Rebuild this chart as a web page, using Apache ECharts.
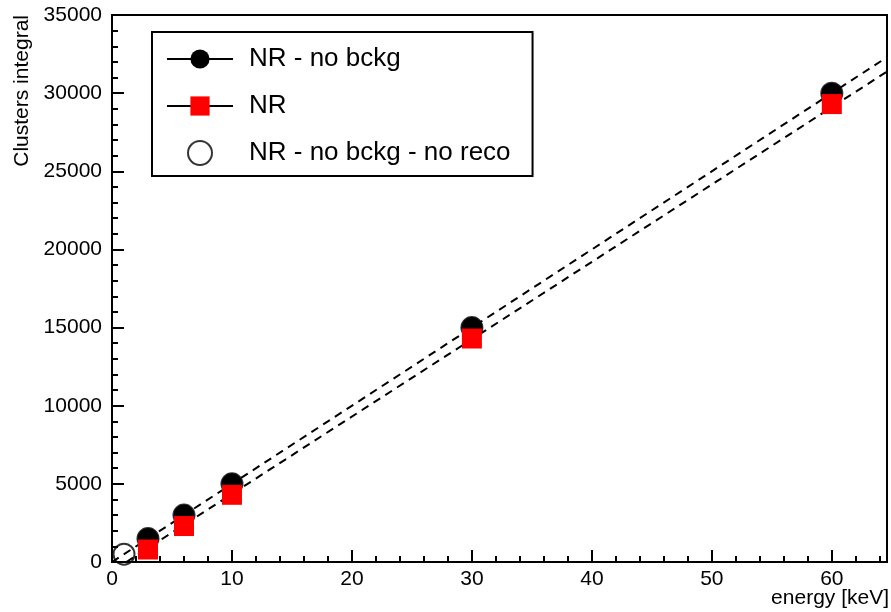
<!DOCTYPE html>
<html><head><meta charset="utf-8">
<script src="https://cdn.jsdelivr.net/npm/echarts@6/dist/echarts.min.js"></script>
<style>html,body{margin:0;padding:0;background:#fff}#c{width:891px;height:612px}</style>
</head><body><div id="c"></div>
<script>
// data
const energy = [3, 6, 10, 30, 60];
const nrNoBckg = [1500, 3000, 5000, 15000, 30000];
const nr = [800, 2300, 4300, 14300, 29300];
const energyNoReco = [1, 3, 6, 10, 30, 60];
const nrNoBckgNoReco = [500, 1500, 3000, 5000, 15000, 30000];
// dashed fit lines (end points)
const fitNoBckgX = [0, 64.6];
const fitNoBckgY = [0, 32300];
const fitNrX = [1.2, 64.6];
const fitNrY = [0, 31380];
const xTicks = [0, 10, 20, 30, 40, 50, 60];
const yTicks = [0, 5000, 10000, 15000, 20000, 25000, 30000, 35000];

const zip = (a, b) => a.map((v, i) => [v, b[i]]);
const FONT = 'Liberation Sans, Arial, Helvetica, sans-serif';

const chart = echarts.init(document.getElementById('c'), null, {renderer: 'canvas'});
const legendLine = {opacity: 1, color: '#000', width: 2, type: 'solid'};

chart.setOption({
  animation: false,
  backgroundColor: '#fff',
  grid: {left: 112, right: 4, top: 15, bottom: 50, show: true, borderColor: '#000', borderWidth: 2, backgroundColor: 'transparent'},
  xAxis: [
    {
      type: 'value', min: 0, max: 64.6, interval: 10,
      axisLine: {show: true, lineStyle: {color: '#000', width: 2}},
      axisTick: {show: true, inside: true, length: 12, lineStyle: {color: '#000', width: 2}},
      axisLabel: {color: '#000', fontSize: 21, fontFamily: FONT, margin: 7,
        formatter: v => (xTicks.indexOf(v) >= 0 ? String(v) : '')},
      splitLine: {show: false}
    },
    {
      type: 'value', min: 0, max: 64.6, interval: 2, position: 'bottom',
      axisLine: {show: false},
      axisTick: {show: true, inside: true, length: 6, lineStyle: {color: '#000', width: 2}},
      axisLabel: {show: false},
      splitLine: {show: false}
    }
  ],
  yAxis: {
    type: 'value', min: 0, max: 35000, interval: 5000,
    axisLine: {show: true, lineStyle: {color: '#000', width: 2}},
    axisTick: {show: true, inside: true, length: 12, lineStyle: {color: '#000', width: 2}},
    minorTick: {show: true, splitNumber: 5, length: 6, lineStyle: {color: '#000', width: 2}},
    axisLabel: {color: '#000', fontSize: 21, fontFamily: FONT, margin: 10,
      formatter: v => (yTicks.indexOf(v) >= 0 ? String(v) : '')},
    splitLine: {show: false},
    minorSplitLine: {show: false}
  },
  legend: {
    orient: 'vertical', left: 152, top: 32,
    padding: [14, 22, 10, 14],
    itemWidth: 66, itemHeight: 24, itemGap: 21,
    backgroundColor: '#fff', borderColor: '#000', borderWidth: 2, borderRadius: 0,
    selectedMode: false,
    textStyle: {fontSize: 26, fontFamily: FONT, color: '#000', padding: [0, 0, 0, 11]},
    data: [
      {name: 'NR - no bckg', lineStyle: legendLine},
      {name: 'NR', lineStyle: legendLine},
      {name: 'NR - no bckg - no reco'}
    ]
  },
  graphic: [
    {type: 'text', x: 22, y: 15, rotation: Math.PI / 2,
      style: {text: 'Clusters integral', fontSize: 21, fontFamily: FONT, fill: '#000', align: 'right', verticalAlign: 'middle'}},
    {type: 'text', x: 889, y: 598,
      style: {text: 'energy [keV]', fontSize: 21, fontFamily: FONT, fill: '#000', align: 'right', verticalAlign: 'middle'}}
  ],
  series: [
    {name: 'fit no bckg', type: 'line', data: zip(fitNoBckgX, fitNoBckgY), symbol: 'none', silent: true,
      lineStyle: {color: '#000', width: 2, type: [8, 6]}},
    {name: 'fit NR', type: 'line', data: zip(fitNrX, fitNrY), symbol: 'none', silent: true,
      lineStyle: {color: '#000', width: 2, type: [8, 6]}},
    {name: 'NR - no bckg', type: 'line', data: zip(energy, nrNoBckg), symbol: 'circle', symbolSize: 21,
      showAllSymbol: true, clip: false, itemStyle: {color: '#000'}, lineStyle: {opacity: 0, color: '#000'}},
    {name: 'NR', type: 'line', data: zip(energy, nr), symbol: 'rect', symbolSize: 20,
      showAllSymbol: true, clip: false, itemStyle: {color: '#ff0000'}, lineStyle: {opacity: 0, color: '#000'}},
    {name: 'NR - no bckg - no reco', type: 'scatter', data: zip(energyNoReco, nrNoBckgNoReco), symbol: 'circle', symbolSize: 21,
      clip: false, itemStyle: {color: 'rgba(0,0,0,0)', borderColor: '#000', borderWidth: 2}}
  ]
});
</script>
</body></html>
